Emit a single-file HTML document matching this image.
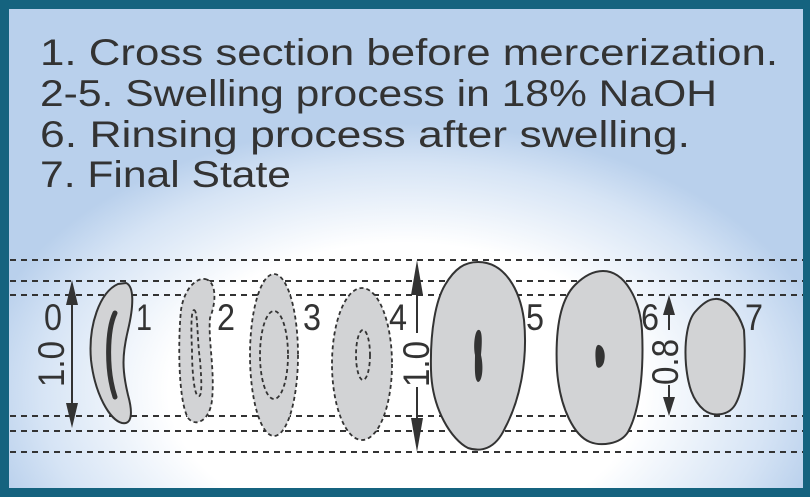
<!DOCTYPE html>
<html><head><meta charset="utf-8"><style>
html,body{margin:0;padding:0}
body{width:810px;height:497px;overflow:hidden}
</style></head><body>
<svg width="810" height="497" viewBox="0 0 810 497" xmlns="http://www.w3.org/2000/svg">
<defs>
<radialGradient id="bg" cx="405" cy="390" r="430" gradientUnits="userSpaceOnUse" gradientTransform="translate(405 390) scale(1 0.62) translate(-405 -390)">
<stop offset="0" stop-color="#ffffff"/>
<stop offset="0.55" stop-color="#ffffff"/>
<stop offset="0.85" stop-color="#d6e4f5"/>
<stop offset="1" stop-color="#b9d0ec"/>
</radialGradient>
</defs>
<rect x="0" y="0" width="810" height="497" fill="#15637f"/>
<rect x="9" y="9" width="794" height="479" fill="#b9d0ec"/>
<rect x="9" y="9" width="794" height="479" fill="url(#bg)"/>
<g font-family="Liberation Sans, sans-serif" font-size="37" fill="#333">
<text x="40" y="65" textLength="738" lengthAdjust="spacingAndGlyphs">1. Cross section before mercerization.</text>
<text x="40" y="106" textLength="677" lengthAdjust="spacingAndGlyphs">2-5. Swelling process in 18% NaOH</text>
<text x="40" y="147" textLength="650" lengthAdjust="spacingAndGlyphs">6. Rinsing process after swelling.</text>
<text x="40" y="187" textLength="251" lengthAdjust="spacingAndGlyphs">7. Final State</text>
</g>
<g stroke="#333" stroke-width="2" stroke-dasharray="6,5">
<line x1="10" y1="260" x2="803" y2="260"/>
<line x1="10" y1="281" x2="803" y2="281"/>
<line x1="10" y1="295" x2="803" y2="295"/>
<line x1="10" y1="416" x2="803" y2="416"/>
<line x1="10" y1="431" x2="803" y2="431"/>
<line x1="10" y1="452" x2="803" y2="452"/>
</g>
<path d="M126,283 C134,286 134,305 128,330 C122,355 122,370 128,395 C133,413 132,425 122,423 C110,420 95,395 91,360 C88,325 100,292 118,284 Z" fill="#d2d3d5" stroke="#333" stroke-width="2"/>
<path d="M115,313 C107,330 106,370 115,397" fill="none" stroke="#333" stroke-width="5" stroke-linecap="round"/>
<g fill="#d2d3d5" stroke="#333" stroke-width="1.8" stroke-dasharray="4,3">
<path d="M205,279 C216,281 217,300 210,318 C208,340 215,370 212,400 C210,420 196,428 188,418 C178,400 178,340 181,310 C184,290 195,278 205,279 Z"/>
<path d="M194,310 C198,310 197,340 200,360 C202,385 202,398 198,396 C194,394 192,370 192,350 C191,330 191,310 194,310 Z" fill="none"/>
<ellipse cx="274" cy="355" rx="24" ry="81"/>
<ellipse cx="274" cy="355" rx="14" ry="44" fill="none"/>
<ellipse cx="362" cy="364" rx="30" ry="76"/>
<ellipse cx="363" cy="355" rx="7" ry="25" fill="none"/>
</g>
<path d="M478,262 C505,262 520,290 524,320 C528,360 520,400 505,428 C495,450 480,452 468,448 C452,440 432,410 431,370 C430,330 436,300 445,285 C455,268 465,262 478,262 Z" fill="#d2d3d5" stroke="#333" stroke-width="2"/>
<path d="M478,330 C483,328 482,345 481,355 C484,368 482,382 478,382 C474,380 475,365 475,355 C473,345 475,331 478,330 Z" fill="#333"/>
<path d="M603,271 C625,271 640,300 642,330 C644,370 640,410 628,432 C620,445 600,446 590,442 C575,436 560,410 557,370 C555,330 560,300 575,285 C585,275 595,271 603,271 Z" fill="#d2d3d5" stroke="#333" stroke-width="2"/>
<path d="M599,345 C604,346 606,355 604,362 C602,369 596,370 596,363 C595,355 595,344 599,345 Z" fill="#333"/>
<path d="M715,299 C725,298 738,310 744,330 C746,360 744,390 735,405 C728,416 713,417 704,410 C692,400 688,385 686,365 C684,340 688,320 695,312 C702,304 709,299 715,299 Z" fill="#d2d3d5" stroke="#333" stroke-width="2"/>
<g stroke="#333" stroke-width="2" fill="#333">
<line x1="72" y1="300" x2="72" y2="408"/>
<polygon points="72,280 66,305 78,305" stroke="none"/>
<polygon points="72,428 66,403 78,403" stroke="none"/>
<line x1="417" y1="280" x2="417" y2="333"/>
<line x1="417" y1="387" x2="417" y2="433"/>
<polygon points="417,260 411,295 423,295" stroke="none"/>
<polygon points="417,452 411,418 423,418" stroke="none"/>
<line x1="669" y1="310" x2="669" y2="330"/>
<line x1="669" y1="385" x2="669" y2="400"/>
<polygon points="669,295 663,315 675,315" stroke="none"/>
<polygon points="669,416 663,397 675,397" stroke="none"/>
</g>
<g font-family="Liberation Sans, sans-serif" font-size="37" fill="#333" lengthAdjust="spacingAndGlyphs">
<text x="44" y="330" textLength="18" lengthAdjust="spacingAndGlyphs">0</text>
<text x="136" y="330" textLength="16" lengthAdjust="spacingAndGlyphs">1</text>
<text x="217" y="330" textLength="18" lengthAdjust="spacingAndGlyphs">2</text>
<text x="303" y="330" textLength="18" lengthAdjust="spacingAndGlyphs">3</text>
<text x="389" y="330" textLength="18" lengthAdjust="spacingAndGlyphs">4</text>
<text x="526" y="330" textLength="18" lengthAdjust="spacingAndGlyphs">5</text>
<text x="641" y="330" textLength="18" lengthAdjust="spacingAndGlyphs">6</text>
<text x="745" y="330" textLength="18" lengthAdjust="spacingAndGlyphs">7</text>
<text transform="translate(64,387) rotate(-90)" textLength="46" lengthAdjust="spacingAndGlyphs">1.0</text>
<text transform="translate(429,387) rotate(-90)" textLength="46" lengthAdjust="spacingAndGlyphs">1.0</text>
<text transform="translate(678,385) rotate(-90)" textLength="46" lengthAdjust="spacingAndGlyphs">0.8</text>
</g>
</svg>
</body></html>
